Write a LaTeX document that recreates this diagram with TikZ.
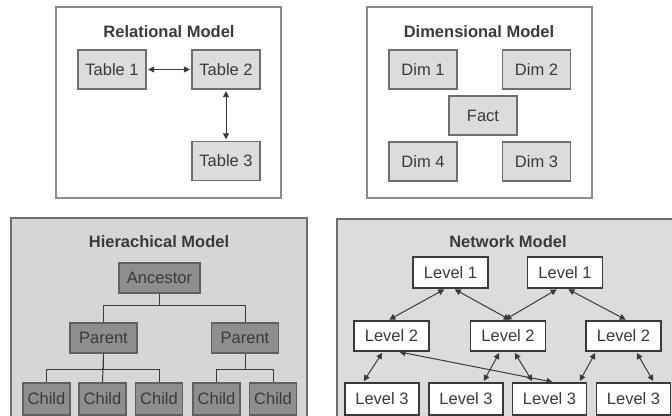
\documentclass[tikz,border=0pt]{standalone}
\usepackage{fontspec}
\setmainfont{Liberation Sans}
\usetikzlibrary{arrows.meta}
\definecolor{ink}{HTML}{3A3A3A}
\definecolor{panelline}{HTML}{8A8A8A}
\definecolor{boxfill}{HTML}{DCDCDC}
\definecolor{boxline}{HTML}{6E6E6E}
\definecolor{shade}{HTML}{D6D6D6}
\definecolor{darkbox}{HTML}{8E8E8E}
\begin{document}
\begin{tikzpicture}[x=1pt,y=-1pt,
  every node/.style={font=\fontsize{16.5}{18}\selectfont, text=ink, inner sep=0pt},
  panel/.style={draw=panelline, line width=1.5pt, fill=white},
  shadedpanel/.style={draw=boxline, line width=1.4pt, fill=shade},
  paneltitle/.style={font=\fontsize{16.5}{19}\selectfont\bfseries},
  tbl/.style={draw=boxline, line width=1.3pt, fill=boxfill, minimum width=68pt, minimum height=39pt},
  hbox/.style={draw=ink!80, line width=1.3pt, fill=darkbox},
  nbox/.style={draw=ink, line width=1.3pt, fill=white, minimum width=75pt, minimum height=31pt},
  link/.style={draw=ink, line width=1pt},
  dbl/.style={link, {Triangle[length=6pt,width=6pt]}-{Triangle[length=6pt,width=6pt]}, shorten <=1.5pt, shorten >=1.5pt}
]
\useasboundingbox (0,0) rectangle (672,415);
\clip (0,0) rectangle (672,415);

% ---------- relational model ----------
\draw[panel] (56,7) rectangle (281,198);
\node[paneltitle] (reltitle) at (169,32) {Relational Model};
\node[tbl] (t1) at (112,69.5) {Table 1};
\node[tbl] (t2) at (226,69.5) {Table 2};
\node[tbl] (t3) at (226,161) {Table 3};
\draw[dbl] (t1.east) -- (t2.west);
\draw[dbl] (t2.south) -- (t3.north);

% ---------- dimensional model ----------
\draw[panel] (367,7) rectangle (592,198);
\node[paneltitle] (dimtitle) at (479,32) {Dimensional Model};
\node[tbl] (d1) at (423,69.5) {Dim 1};
\node[tbl] (d2) at (536.5,69.5) {Dim 2};
\node[tbl] (fact) at (483,115.5) {Fact};
\node[tbl] (d4) at (423,161.5) {Dim 4};
\node[tbl] (d3) at (536.5,161.5) {Dim 3};

% ---------- hierarchical model ----------
\draw[shadedpanel] (11,218) rectangle (307,425);
\node[paneltitle] (hiertitle) at (159,242) {Hierachical Model};
\node[hbox, minimum width=81pt, minimum height=30pt] (anc) at (159.5,278) {Ancestor};
\node[hbox, minimum width=67pt, minimum height=30pt] (p1) at (103.5,338) {Parent};
\node[hbox, minimum width=67pt, minimum height=30pt] (p2) at (245,338) {Parent};
\tikzset{child/.style={hbox, minimum width=47pt, minimum height=32pt}}
\node[child] (c1) at (46.5,399) {Child};
\node[child] (c2) at (102.5,399) {Child};
\node[child] (c3) at (159,399) {Child};
\node[child] (c4) at (216.5,399) {Child};
\node[child] (c5) at (273,399) {Child};
\draw[link] (anc.south) -- ++(0,12) -| (p1.north);
\draw[link] (anc.south) ++(0,12) -| (p2.north);
\draw[link] (p1.south) -- ++(0,16) -| (c1.north);
\draw[link] (p1.south) ++(0,16) -| (c3.north);
\draw[link] (p1.south) -- (c2.north);
\draw[link] (p2.south) -- ++(0,16) -| (c4.north);
\draw[link] (p2.south) ++(0,16) -| (c5.north);

% ---------- network model ----------
\draw[shadedpanel, fill=boxfill] (337,219) rectangle (690,425);
\node[paneltitle] (nettitle) at (508,242) {Network Model};
\node[nbox] (a1) at (450.5,272.5) {Level 1};
\node[nbox] (a2) at (565,272.5) {Level 1};
\node[nbox, minimum height=30pt] (b1) at (391.5,336) {Level 2};
\node[nbox, minimum height=30pt] (b2) at (508,336) {Level 2};
\node[nbox, minimum height=30pt] (b3) at (623.5,336) {Level 2};
\tikzset{leaf/.style={nbox, minimum width=74pt, minimum height=32pt}}
\node[leaf] (e1) at (382,399) {Level 3};
\node[leaf] (e2) at (466,399) {Level 3};
\node[leaf] (e3) at (549.5,399) {Level 3};
\node[leaf] (e4) at (633.5,399) {Level 3};
\draw[dbl] ([xshift=-5pt]a1.south) -- ([xshift=-3.5pt]b1.north);
\draw[dbl] ([xshift=3pt]a1.south) -- ([xshift=3pt]b2.north);
\draw[dbl] ([xshift=-7pt]a2.south) -- ([xshift=-4pt]b2.north);
\draw[dbl] ([xshift=2pt]a2.south) -- ([xshift=3.5pt]b3.north);
\draw[dbl] ([xshift=-8.5pt]b1.south) -- ([xshift=-19pt]e1.north);
\draw[dbl] ([xshift=6.5pt]b1.south) -- ([xshift=4.5pt]e3.north);
\draw[dbl] ([xshift=-8pt]b2.south) -- ([xshift=17pt]e2.north);
\draw[dbl] ([xshift=6pt]b2.south) -- ([xshift=-16.5pt]e3.north);
\draw[dbl] ([xshift=-27.5pt]b3.south) -- ([xshift=29.5pt]e3.north);
\draw[dbl] ([xshift=12.5pt]b3.south) -- ([xshift=20.5pt]e4.north);
\end{tikzpicture}
\end{document}
